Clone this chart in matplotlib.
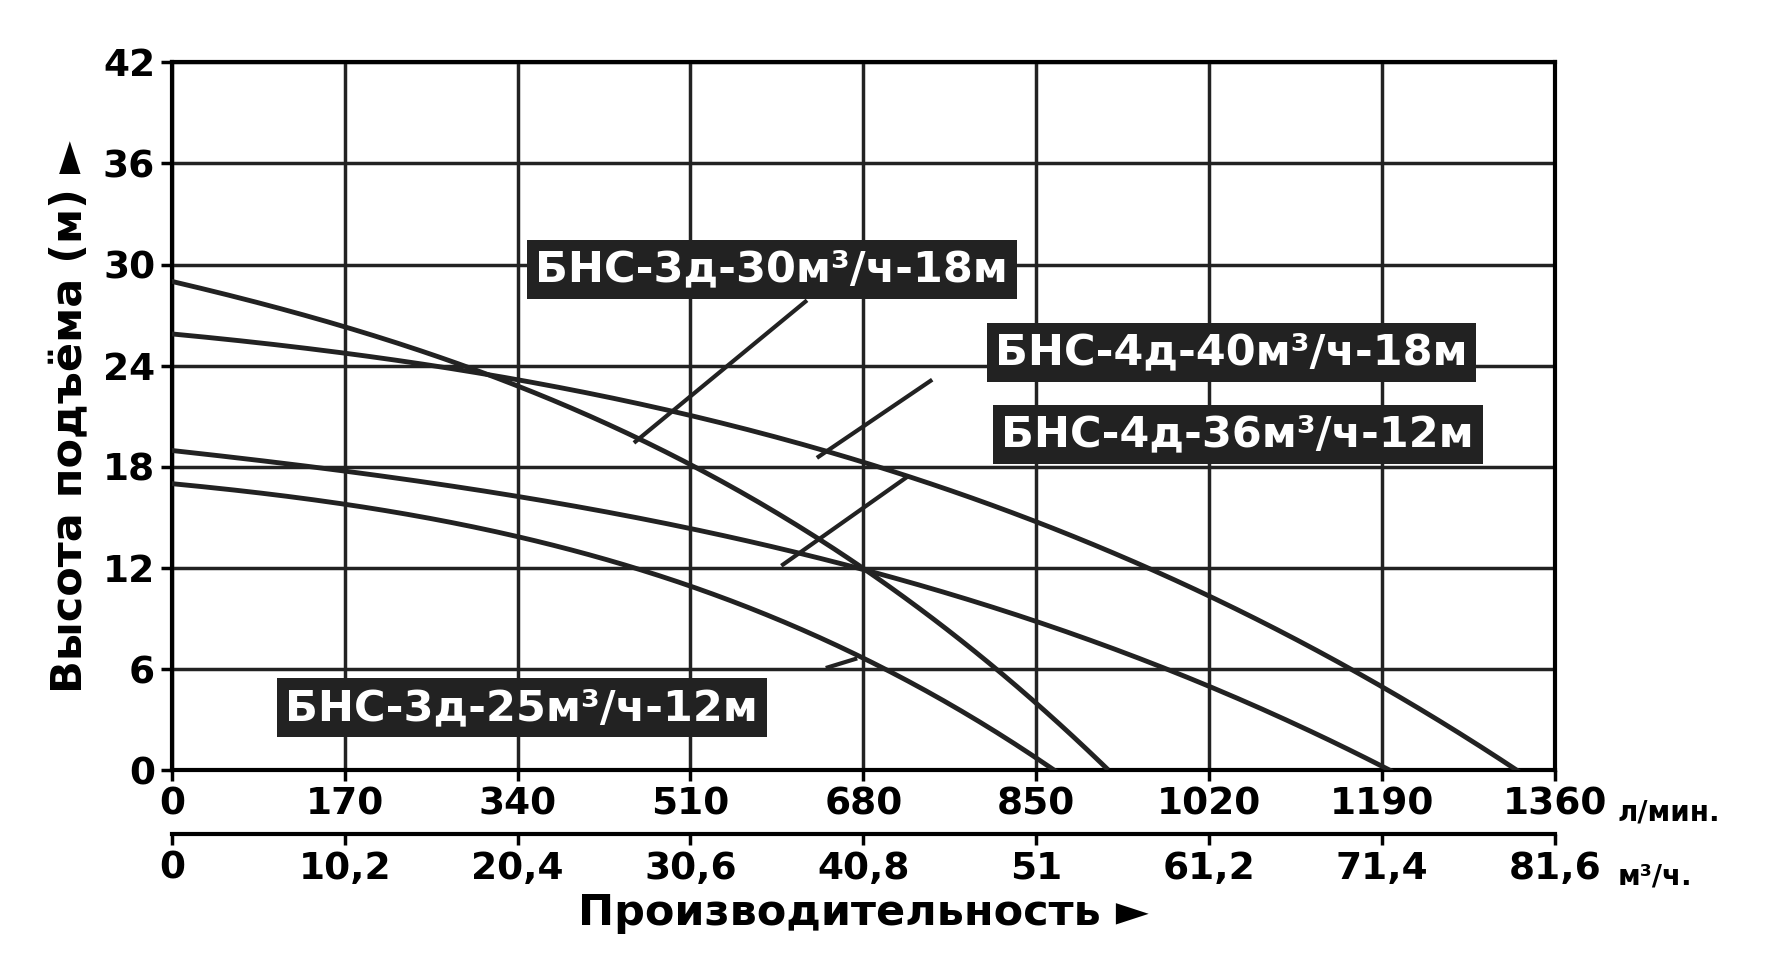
import numpy as np
import matplotlib
matplotlib.use('Agg')
import matplotlib.pyplot as plt

# curves, flow in l/min, head in m
q30 = [0, 170, 340, 510, 680, 850, 919]
h30 = [29, 26.3, 22.8, 18.2, 11.8, 4.2, 0]
q40 = [0, 170, 340, 510, 680, 850, 1020, 1190, 1326]
h40 = [26, 24.6, 23, 21.1, 18.6, 14.7, 10.2, 4.8, 0]
q36 = [0, 170, 340, 510, 680, 850, 1020, 1198]
h36 = [19, 17.7, 16.2, 14.4, 12, 8.7, 5, 0]
q25 = [0, 170, 340, 510, 680, 868]
h25 = [17, 15.8, 13.8, 11, 6.6, 0]

xticks = [0, 170, 340, 510, 680, 850, 1020, 1190, 1360]
m3_labels = ['0', '10,2', '20,4', '30,6', '40,8', '51', '61,2', '71,4', '81,6']
yticks = [0, 6, 12, 18, 24, 30, 36, 42]

labels = [('БНС-3д-30м³/ч-18м', 590, 29.7, (456, 19.5), (623, 27.8)),
          ('БНС-4д-40м³/ч-18м', 1042, 24.8, (636, 18.6), (746, 23.1)),
          ('БНС-4д-36м³/ч-12м', 1048, 19.9, (601, 12.2), (723, 17.4)),
          ('БНС-3д-25м³/ч-12м', 344, 3.7, (645, 6.1), (672, 6.6))]

fig = plt.figure(figsize=(17.71, 9.58), dpi=100)
ax = fig.add_axes([0.097, 0.196, 0.781, 0.739])

for q, h in [(q30, h30), (q40, h40), (q36, h36), (q25, h25)]:
    c = np.polyfit(q, h, 3)
    xs = np.linspace(q[0], q[-1], 200)
    ax.plot(xs, np.polyval(c, xs), color='#222222', lw=3.5, zorder=3)

for txt, x, y, p0, p1 in labels:
    ax.plot([p0[0], p1[0]], [p0[1], p1[1]], color='#222222', lw=3, zorder=3)
    ax.text(x, y, txt, ha='center', va='center', color='white', fontsize=31, fontweight='bold',
            bbox=dict(boxstyle='square,pad=0.2', fc='#222222', ec='none'), zorder=5)

ax.set_xlim(0, 1360)
ax.set_ylim(0, 42)
ax.set_xticks(xticks)
ax.set_yticks(yticks)
ax.grid(True, color='#222222', lw=2.5)
for s in ax.spines.values():
    s.set_linewidth(3)
ax.tick_params(axis='both', labelsize=27, width=2.5, length=8, pad=4)
for t in ax.get_xticklabels() + ax.get_yticklabels():
    t.set_fontweight('bold')
ax.set_ylabel('Высота подъёма (м) ►', fontsize=31, fontweight='bold', labelpad=8)

sec = ax.secondary_xaxis(-0.09)
sec.set_xticks(xticks)
sec.set_xticklabels(m3_labels)
sec.spines['bottom'].set_linewidth(3)
sec.tick_params(labelsize=27, width=2.5, length=8, pad=4)
for t in sec.get_xticklabels():
    t.set_fontweight('bold')
sec.set_xlabel('Производительность ►', fontsize=31, fontweight='bold', labelpad=4)

ax.text(1.045, -0.06, 'л/мин.', transform=ax.transAxes, fontsize=20, fontweight='bold', va='center')
ax.text(1.045, -0.15, 'м³/ч.', transform=ax.transAxes, fontsize=20, fontweight='bold', va='center')

fig.savefig('out.png', dpi=100)
